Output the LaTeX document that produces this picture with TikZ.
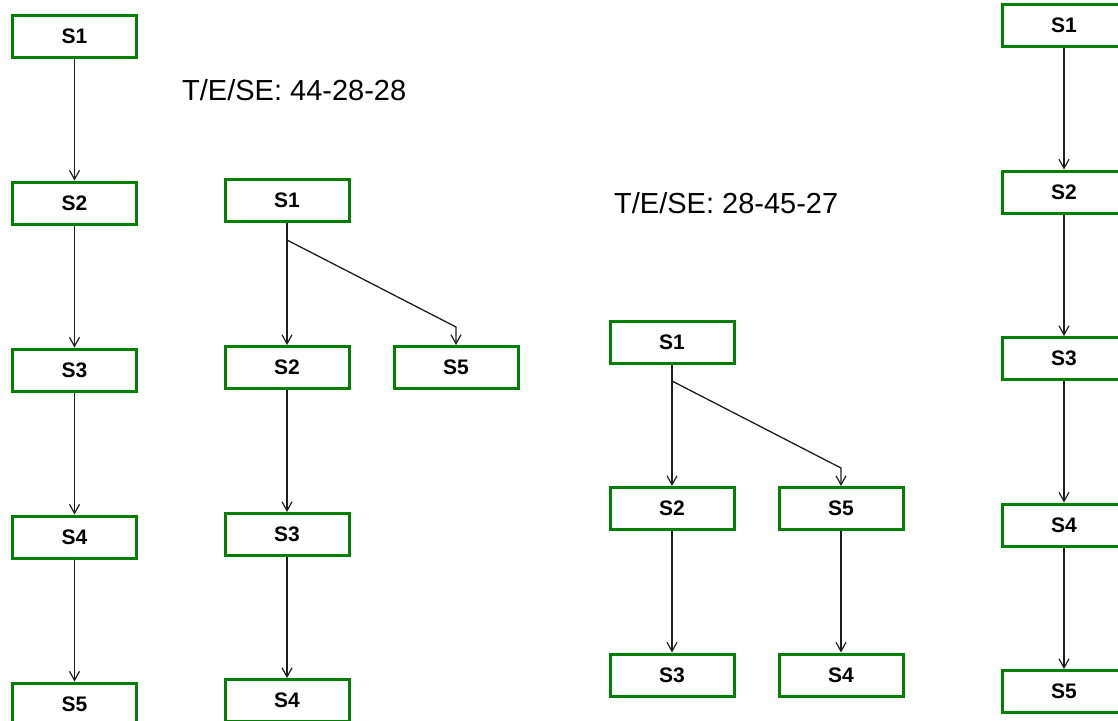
\documentclass[tikz,border=0pt]{standalone}
\usepackage{fontspec}
\setmainfont{Liberation Sans}
\usetikzlibrary{arrows.meta}
\definecolor{boxgreen}{RGB}{0,128,0}
\definecolor{linegray}{RGB}{30,30,30}
\begin{document}
\begin{tikzpicture}[x=1pt,y=-1pt,
  stepbox/.style={draw=boxgreen,line width=3pt,fill=white,minimum width=124pt,minimum height=42pt,inner sep=0pt,font=\fontsize{21}{21}\selectfont\bfseries},
  conn/.style={draw=linegray,line width=1.3pt,-{Straight Barb[length=9pt,width=10pt,line width=1.2pt]}},
  lbl/.style={font=\fontsize{29}{29}\selectfont,anchor=west,inner sep=0pt}]
\useasboundingbox (0,0) rectangle (1118,720);
% Column 1
\node[stepbox] (a1) at (74.5,36) {S1};
\node[stepbox] (a2) at (74.5,203) {S2};
\node[stepbox] (a3) at (74.5,370) {S3};
\node[stepbox] (a4) at (74.5,537) {S4};
\node[stepbox] (a5) at (74.5,704) {S5};
\draw[conn] (a1) -- (a2);
\draw[conn] (a2) -- (a3);
\draw[conn] (a3) -- (a4);
\draw[conn] (a4) -- (a5);
% Label 1
\node[lbl] (t1) at (182,90) {T/E/SE: 44-28-28};
% Column 2
\node[stepbox] (b1) at (287,200.5) {S1};
\node[stepbox] (b2) at (287,367.5) {S2};
\node[stepbox] (b5) at (456,367.5) {S5};
\node[stepbox] (b3) at (287,534.5) {S3};
\node[stepbox] (b4) at (287,700.5) {S4};
\coordinate (bk) at (287,240);
\coordinate (bm) at (456,327);
\draw[conn] (b1) -- (b2);
\draw[conn] (bk) -- (bm) -- (b5);
\draw[conn] (b2) -- (b3);
\draw[conn] (b3) -- (b4);
% Label 2
\node[lbl] (t2) at (614,203) {T/E/SE: 28-45-27};
% Column 3
\node[stepbox] (c1) at (672,342.5) {S1};
\node[stepbox] (c2) at (672,508.5) {S2};
\node[stepbox] (c5) at (841,508.5) {S5};
\node[stepbox] (c3) at (672,675) {S3};
\node[stepbox] (c4) at (841,675) {S4};
\coordinate (ck) at (672,381);
\coordinate (cm) at (841,468);
\draw[conn] (c1) -- (c2);
\draw[conn] (ck) -- (cm) -- (c5);
\draw[conn] (c2) -- (c3);
\draw[conn] (c5) -- (c4);
% Column 4
\node[stepbox] (d1) at (1064,25.5) {S1};
\node[stepbox] (d2) at (1064,192) {S2};
\node[stepbox] (d3) at (1064,358.5) {S3};
\node[stepbox] (d4) at (1064,525) {S4};
\node[stepbox] (d5) at (1064,691.5) {S5};
\draw[conn] (d1) -- (d2);
\draw[conn] (d2) -- (d3);
\draw[conn] (d3) -- (d4);
\draw[conn] (d4) -- (d5);
\end{tikzpicture}
\end{document}
